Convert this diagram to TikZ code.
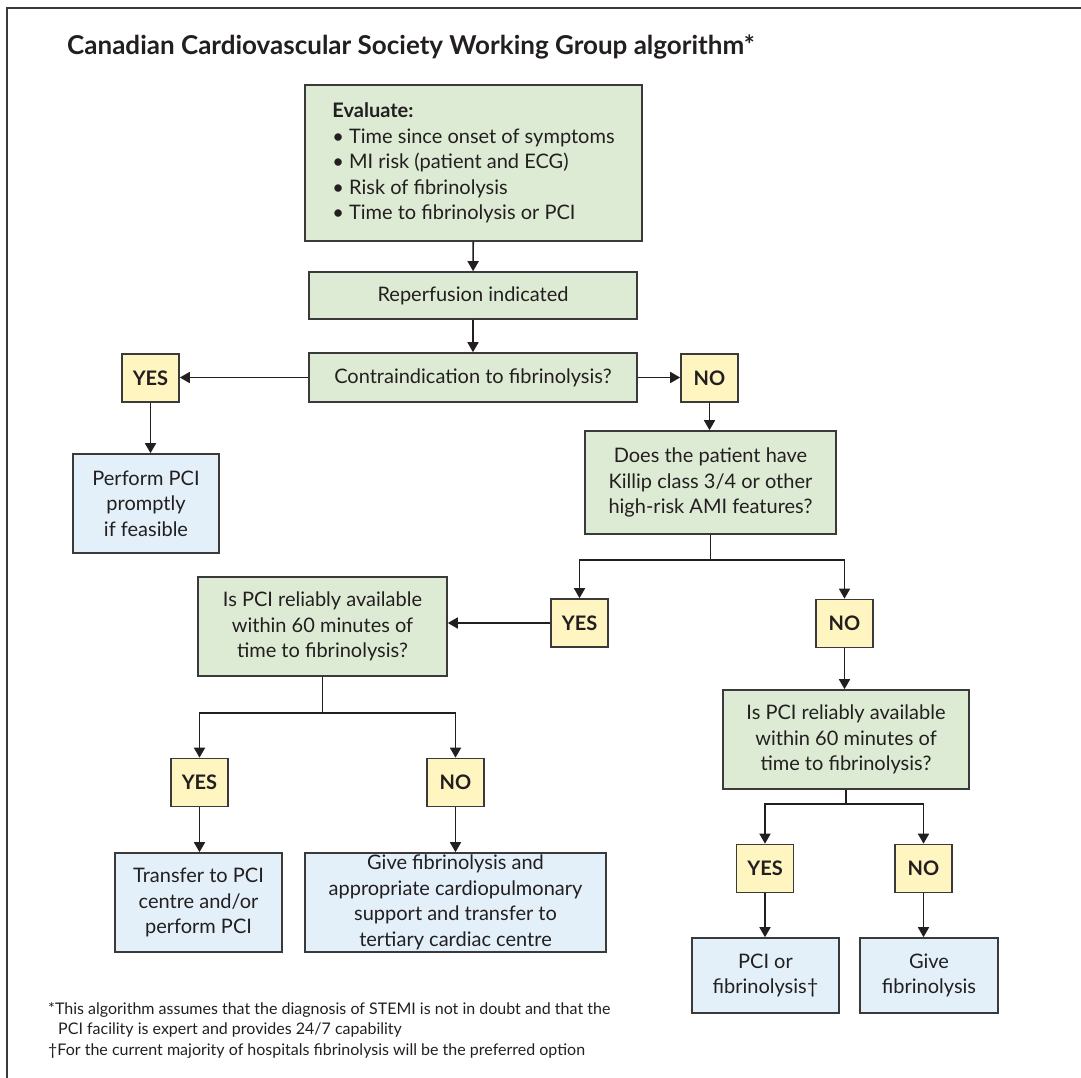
\documentclass[tikz,border=0pt]{standalone}
\usepackage{fontspec}
\setmainfont{Lato}
\usetikzlibrary{arrows.meta}

\definecolor{txt}{HTML}{231F20}
\definecolor{edge}{HTML}{3A3A3A}
\definecolor{askfill}{HTML}{DDEBD4}
\definecolor{ansfill}{HTML}{FFF5C0}
\definecolor{actfill}{HTML}{E3F0F9}

\tikzset{
  box/.style={draw=edge,line width=1.6pt,text=txt,align=center,inner sep=0pt,
    font=\fontsize{20}{25.5}\selectfont},
  ask/.style={box,fill=askfill},
  act/.style={box,fill=actfill},
  ans/.style={box,fill=ansfill,minimum width=57pt,minimum height=48pt,
    font=\fontsize{20}{24}\selectfont\bfseries},
  arr/.style={draw=txt,line width=1.6pt,-{Triangle[length=10pt,width=11pt]}},
  foot/.style={text=txt,inner sep=0pt,anchor=base west,
    font=\fontsize{16}{18}\selectfont},
}

\begin{document}
\begin{tikzpicture}[x=1pt,y=-1pt]
    \useasboundingbox (0,0) rectangle (1081,1078);
    % frame
    \draw[edge,line width=1.6pt] (7,1078) -- (7,8) -- (1081,8);

    \node[text=txt,anchor=base west,inner sep=0pt,
      font=\fontsize{26}{30}\selectfont\bfseries] (title) at (67,55)
      {Canadian Cardiovascular Society Working Group algorithm*};

    \node[ask,minimum width=337pt,minimum height=156pt,align=left] (eval) at (473.5,163)
      {\textbf{Evaluate:}\\
       • Time since onset of symptoms\\
       • MI risk (patient and ECG)\\
       • Risk of fibrinolysis\\
       • Time to fibrinolysis or PCI};
    \node[ask,minimum width=328pt,minimum height=47pt] (rep) at (473,295.5) {Reperfusion indicated};
    \node[ask,minimum width=328pt,minimum height=49pt] (contra) at (473,377.5) {Contraindication to fibrinolysis?};
    \node[ans] (yesA) at (150.5,378) {YES};
    \node[ans] (noA) at (709.5,378) {NO};
    \node[act,minimum width=146pt,minimum height=99pt] (prompt) at (146,503.5)
      {Perform PCI\\promptly\\if feasible};
    \node[ask,minimum width=251pt,minimum height=103pt] (killip) at (710.5,482.5)
      {Does the patient have\\Killip class 3/4 or other\\high-risk AMI features?};
    \node[ans] (yesB) at (579.5,623) {YES};
    \node[ans] (noB) at (844.5,623.5) {NO};
    \node[ask,minimum width=249pt,minimum height=99pt] (pciL) at (322.5,626.5)
      {Is PCI reliably available\\within 60 minutes of\\time to fibrinolysis?};
    \node[ans] (yesC) at (199.5,782.5) {YES};
    \node[ans] (noC) at (455.5,782.5) {NO};
    \node[act,minimum width=167pt,minimum height=99pt] (transfer) at (198.5,902.5)
      {Transfer to PCI\\centre and/or\\perform PCI};
    \node[act,minimum width=301pt,minimum height=99pt] (support) at (455.5,902.5)
      {Give fibrinolysis and\\appropriate cardiopulmonary\\support and transfer to\\tertiary cardiac centre};
    \node[ask,minimum width=246pt,minimum height=99pt] (pciR) at (846,739.5)
      {Is PCI reliably available\\within 60 minutes of\\time to fibrinolysis?};
    \node[ans] (yesD) at (765,868.5) {YES};
    \node[ans] (noD) at (923.5,868.5) {NO};
    \node[act,minimum width=147pt,minimum height=75pt] (either) at (765.5,975.5)
      {PCI or\\fibrinolysis†};
    \node[act,minimum width=138pt,minimum height=75pt] (lysis) at (929,975.5)
      {Give\\fibrinolysis};

    % connectors
    \draw[arr] (eval) -- (rep);
    \draw[arr] (rep) -- (contra);
    \draw[arr] (contra.west) -- (contra.west -| yesA.east);
    \draw[arr] (contra.east) -- (contra.east -| noA.west);
    \draw[arr] (yesA) -- (yesA |- prompt.north);
    \draw[arr] (noA) -- (noA |- killip.north);
    \draw[arr] (killip.south) -- ++(0,25) -| (yesB.north);
    \draw[arr] (killip.south) -- ++(0,25) -| (noB.north);
    \draw[arr] (yesB.west) -- (yesB.west -| pciL.east);
    \draw[arr] (noB) -- (noB |- pciR.north);
    \draw[arr] (pciL.south) -- ++(0,36) -| (yesC.north);
    \draw[arr] (pciL.south) -- ++(0,36) -| (noC.north);
    \draw[arr] (yesC) -- (yesC |- transfer.north);
    \draw[arr] (noC) -- (noC |- support.north);
    \draw[arr] (pciR.south) -- ++(0,14) -| (yesD.north);
    \draw[arr] (pciR.south) -- ++(0,14) -| (noD.north);
    \draw[arr] (yesD) -- (yesD |- either.north);
    \draw[arr] (noD) -- (noD |- lysis.north);

    % footnotes
    \node[foot] (noteA) at (48,1014)
      {*This algorithm assumes that the diagnosis of STEMI is not in doubt and that the};
    \node[foot] (noteB) at (58,1034.5)
      {PCI facility is expert and provides 24/7 capability};
    \node[foot] (noteC) at (48,1055)
      {†For the current majority of hospitals fibrinolysis will be the preferred option};
\end{tikzpicture}
\end{document}
